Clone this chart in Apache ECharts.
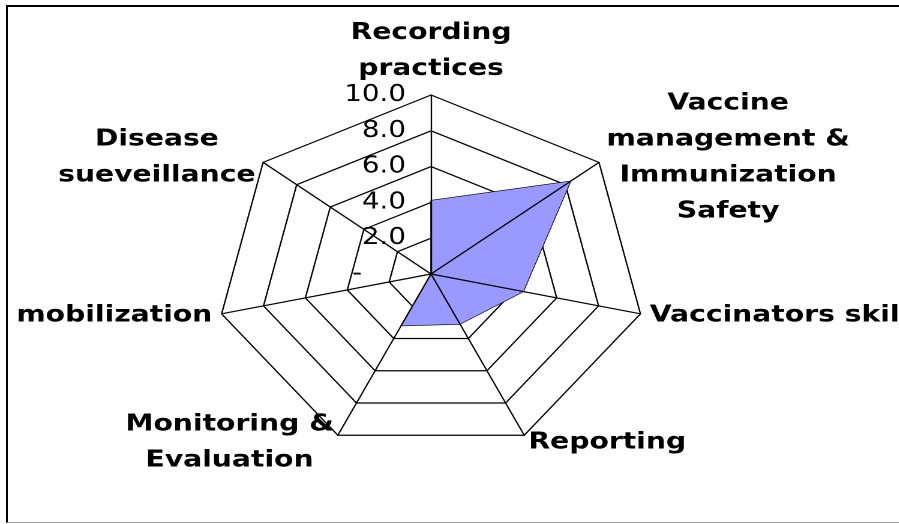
<!DOCTYPE html>
<html>
<head>
<meta charset="utf-8">
<script src="https://cdn.jsdelivr.net/npm/echarts@6/dist/echarts.min.js"></script>
<style>
  html, body { margin: 0; padding: 0; background: #fff; overflow: hidden; width: 899px; height: 524px; }
  #frame {
    position: absolute; left: 6px; top: 5px; width: 1000px; height: 515px;
    border-top: 2px solid #000; border-left: 2px solid #000; border-bottom: 1px solid #a0a0a0;
  }
  /* the reference is stretched sideways, so the chart is drawn narrower and scaled */
  #chart {
    position: absolute; left: 0; top: 0; width: 750px; height: 524px;
    transform: scaleX(1.2); transform-origin: 0 0;
  }
</style>
</head>
<body>
<div id="frame"></div>
<div id="chart"></div>
<script>
// indicator names, clockwise from the top (as drawn, the outer frame cuts some of them)
let names = [
  'Recording\npractices',
  'Vaccine\nmanagement &\nImmunization\nSafety',
  'Vaccinators skills',
  'Reporting',
  'Monitoring &\nEvaluation',
  'mobilization',
  'Disease\nsueveillance'
];
let maxValue = 10;
let scores = [4.1, 8.3, 4.4, 3.1, 3.2, 0, 0];

// echarts radar goes counter-clockwise, so flip the order after the first axis
let order = [0, 6, 5, 4, 3, 2, 1];
let ccwNames = order.map(i => names[i]);
let ccwScores = order.map(i => scores[i]);

let chart = echarts.init(document.getElementById('chart'), null, { devicePixelRatio: 2 });

let indicators = ccwNames.map((n, i) => {
  let ind = { name: n, max: maxValue, min: 0 };
  // only the first axis carries the value labels
  if (i == 0) {
    ind.axisLabel = { show: true };
  }
  return ind;
});

let center = [359.2, 274];
let radius = 179;

let nameStyle = {
  fontFamily: 'DejaVu Sans',
  fontWeight: 'bold',
  fontSize: 23.5,
  lineHeight: 36,
  color: '#000'
};

let option = {
  animation: false,
  radar: [{
    // rings, value labels and names
    center: center,
    radius: radius,
    shape: 'polygon',
    splitNumber: 5,
    startAngle: 90,
    z: 1,
    indicator: indicators,
    axisNameGap: 8,
    axisName: {
      formatter: (name) => name.split('\n').map(s => '{c|' + s + '}').join('\n'),
      rich: {
        c: Object.assign({ align: 'center' }, nameStyle)
      }
    },
    axisLine: { show: false },
    axisTick: { show: false },
    axisLabel: {
      show: false,
      margin: 21,
      fontFamily: 'DejaVu Sans',
      fontSize: 23,
      color: '#000',
      showMinLabel: true,
      showMaxLabel: true,
      formatter: (v) => v == 0 ? '-     ' : v.toFixed(1)
    },
    splitLine: { lineStyle: { color: '#000', width: 1.2 } },
    splitArea: { show: false }
  }, {
    // spokes drawn over the filled area
    center: center,
    radius: radius,
    shape: 'polygon',
    splitNumber: 5,
    startAngle: 90,
    z: 3,
    indicator: ccwNames.map(n => ({ name: n, max: maxValue, min: 0 })),
    axisName: { show: false },
    axisLine: { show: true, lineStyle: { color: '#000', width: 1.2 } },
    axisTick: { show: false },
    axisLabel: { show: false },
    splitLine: { show: false },
    splitArea: { show: false }
  }],
  series: [{
    type: 'radar',
    radarIndex: 0,
    z: 2,
    symbol: 'none',
    lineStyle: { color: '#000', width: 1.2 },
    areaStyle: { color: '#9999ff', opacity: 1 },
    data: [{ value: ccwScores }]
  }]
};

chart.setOption(option);
</script>
</body>
</html>
